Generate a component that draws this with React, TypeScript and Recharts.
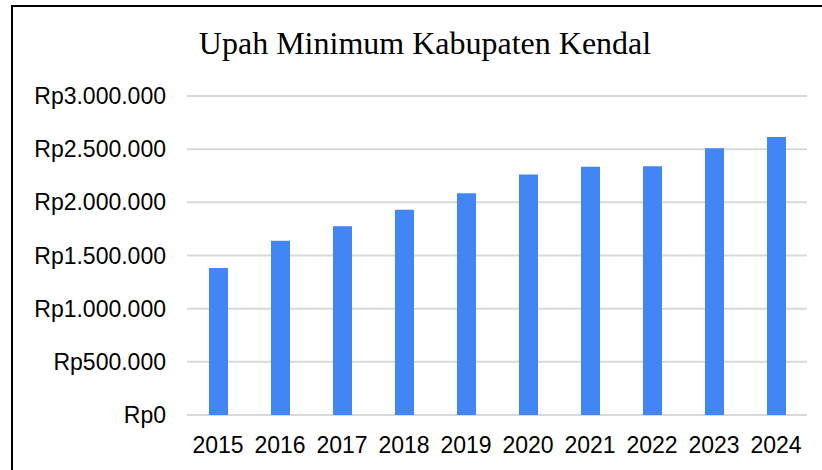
import React from "react";
import { BarChart, Bar, CartesianGrid, XAxis, YAxis } from "recharts";

const years = ["2015", "2016", "2017", "2018", "2019", "2020", "2021", "2022", "2023", "2024"];
const upah = [1383450, 1639600, 1774867, 1929458, 2084393, 2261775, 2335735, 2340312, 2507610, 2613300];
const yTicks = [0, 500000, 1000000, 1500000, 2000000, 2500000, 3000000];

const data = years.map((tahun, i) => ({ tahun, upah: upah[i] }));

const rupiah = (v: number) => "Rp" + v.toString().replace(/\B(?=(\d{3})+(?!\d))/g, ".");

const tickFont = { fontFamily: "'Liberation Sans', Arial, sans-serif", fontSize: 23, fill: "#000" };

export default function App() {
  return (
    <div style={{ position: "absolute", left: 0, top: 0, width: 822, height: 470, overflow: "hidden", background: "#fff" }}>
      <div
        style={{
          position: "absolute",
          left: 11,
          top: 5,
          width: 900,
          height: 600,
          borderLeft: "2px solid #000",
          borderTop: "2px solid #000",
        }}
      />
      <div
        style={{
          position: "absolute",
          left: 0,
          top: 27,
          width: 850,
          textAlign: "center",
          fontFamily: "'Liberation Serif', 'Times New Roman', serif",
          fontSize: 32,
          lineHeight: "32px",
          color: "#000",
        }}
      >
        Upah Minimum Kabupaten Kendal
      </div>
      <div style={{ position: "absolute", left: 0, top: 0 }}>
        <BarChart width={822} height={470} data={data} margin={{ top: 96, right: 15, left: 0, bottom: 0 }}>
          <CartesianGrid vertical={false} stroke="#d9d9d9" strokeWidth={2} />
          <XAxis
            dataKey="tahun"
            height={55}
            axisLine={false}
            tickLine={false}
            tickSize={0}
            tickMargin={22}
            tick={tickFont}
            interval={0}
          />
          <YAxis
            width={187}
            domain={[0, 3000000]}
            ticks={yTicks}
            tickFormatter={rupiah}
            axisLine={false}
            tickLine={false}
            tickSize={0}
            tickMargin={21}
            tick={tickFont}
            interval={0}
          />
          <Bar dataKey="upah" fill="#4285F4" barSize={19} isAnimationActive={false} />
        </BarChart>
      </div>
    </div>
  );
}
